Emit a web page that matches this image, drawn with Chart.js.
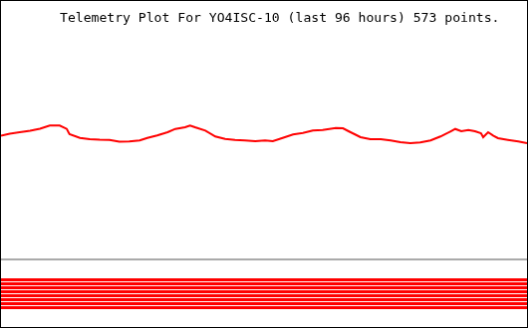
<!DOCTYPE html>
<html>
<head>
<meta charset="utf-8">
<script src="https://cdn.jsdelivr.net/npm/chart.js@4"></script>
<style>
  body { margin: 0; background: #fff; }
  #plot { display: block; border: 1px solid #000; }
</style>
</head>
<body>
<canvas id="plot" width="528" height="328"></canvas>
<script>
// hours before now
const hours = [-96, -94.4, -92.6, -90.7, -88.9, -87.1, -85.3, -84.0, -83.5, -81.6,
  -79.8, -78.0, -76.2, -74.4, -72.6, -70.7, -69.3, -67.5, -65.6, -64.2,
  -62.4, -61.5, -60.6, -58.7, -56.9, -55.1, -53.3, -51.5, -49.6, -47.8,
  -46.4, -44.6, -42.7, -40.9, -39.1, -37.3, -34.9, -33.6, -32.2, -30.4,
  -28.6, -26.7, -24.9, -23.1, -21.3, -19.5, -17.6, -15.8, -14.0, -13.1,
  -12.0, -10.7, -9.5, -8.4, -8.0, -7.1, -6.2, -5.3, -3.5, -1.6, 0];

// analog channel (raw counts)
const analog = [124.5, 126.5, 128, 129.5, 131.5, 134.7, 134.7, 131.3, 126, 122.3,
  121, 120.5, 120.3, 118.5, 118.7, 119.7, 122.3, 124.7, 128, 131.3,
  133, 134.7, 133, 129.7, 123.7, 121.3, 120.3, 119.7, 119, 119.7,
  119, 122.3, 125.7, 127.3, 129.7, 130.3, 132.3, 132, 128, 123,
  121, 121, 119.7, 118, 117, 117.7, 119.7, 123.7, 128.7, 131.3,
  129, 130.3, 129, 127, 123, 128, 124.7, 122, 120.3, 118.7, 117];

// digital bit channels, flat for the whole period
const bitLevels = [-20.5, -24.5, -28.5, -32.5, -36.5, -40.5, -44.5, -48.5];
const baseline = 0;

const titleText = 'Telemetry Plot For YO4ISC-10 (last 96 hours) 573 points.';

const datasets = [{
  label: 'analog',
  data: hours.map((h, i) => ({ x: h, y: analog[i] })),
  borderColor: '#ff0000',
  borderWidth: 2,
  pointRadius: 0,
  tension: 0
}, {
  label: 'baseline',
  data: [{ x: -96, y: baseline }, { x: 0, y: baseline }],
  borderColor: '#aaaaaa',
  borderWidth: 2,
  pointRadius: 0
}];

bitLevels.forEach((lvl, i) => {
  datasets.push({
    label: 'bit ' + (i + 1),
    data: [{ x: -96, y: lvl }, { x: 0, y: lvl }],
    borderColor: '#ff0000',
    borderWidth: 3,
    pointRadius: 0
  });
});

const titlePlugin = {
  id: 'plotTitle',
  afterDraw(chart) {
    const c = chart.ctx;
    c.save();
    c.fillStyle = '#000';
    c.font = '13.1px "DejaVu Sans Mono", monospace';
    c.textBaseline = 'alphabetic';
    c.fillText(titleText, 59, 21);
    c.restore();
  }
};

new Chart(document.getElementById('plot').getContext('2d'), {
  type: 'line',
  data: { datasets: datasets },
  options: {
    responsive: false,
    animation: false,
    layout: { padding: 0, autoPadding: false },
    plugins: {
      legend: { display: false },
      tooltip: { enabled: false }
    },
    scales: {
      x: { type: 'linear', min: -96, max: 0, display: false },
      y: { min: -68, max: 260, display: false }
    }
  },
  plugins: [titlePlugin]
});
</script>
</body>
</html>
